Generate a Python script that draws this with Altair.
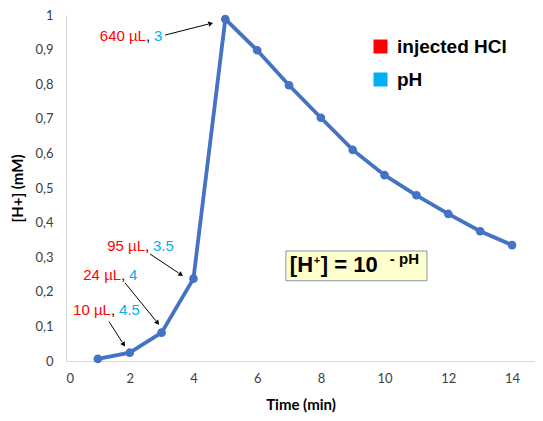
import math
import altair as alt
import pandas as pd

# ---- data ----
time_min = [1, 2, 3, 4, 5, 6, 7, 8, 9, 10, 11, 12, 13, 14]
h_plus = [0.006, 0.024, 0.082, 0.238, 0.988, 0.898, 0.797, 0.703, 0.610,
          0.537, 0.479, 0.425, 0.375, 0.335]

ann_volume = ["640 µL", "95 µL", "24 µL", "10 µL"]
ann_ph = ["3", "3.5", "4", "4.5"]
ann_x = [2.51, 2.48, 1.73, 1.41]
ann_y = [0.940, 0.332, 0.249, 0.148]
arrow_x0 = [3.11, 2.64, 1.85, 1.35]
arrow_y0 = [0.942, 0.309, 0.226, 0.114]
arrow_x1 = [4.61, 3.67, 2.92, 1.85]
arrow_y1 = [0.977, 0.246, 0.105, 0.042]

legend_labels = ["injected HCl", "pH"]
legend_colors = ["#FF0000", "#00B0F0"]

box_x = [6.9, 11.33]
box_y = [0.232, 0.318]
formula_base_y = 0.257
formula_sup_y = 0.280

x_ticks = [0, 2, 4, 6, 8, 10, 12, 14]
y_ticks = [0, 0.1, 0.2, 0.3, 0.4, 0.5, 0.6, 0.7, 0.8, 0.9, 1]

W, H = 469, 346
X_MAX = 14.72
px_x = W / X_MAX
px_y = H / 1.0

df = pd.DataFrame({"t": time_min, "h": h_plus})

ann = pd.DataFrame({
    "x": ann_x, "y": ann_y, "vol": ann_volume, "ph": ann_ph,
    "s_vol": [legend_labels[0]] * 4, "s_ph": [legend_labels[1]] * 4,
})

# arrow heads
heads = []
for x0, y0, x1, y1 in zip(arrow_x0, arrow_y0, arrow_x1, arrow_y1):
    dxp = (x1 - x0) * px_x
    dyp = -(y1 - y0) * px_y
    L = math.hypot(dxp, dyp)
    ux, uy = dxp / L, dyp / L
    ang = math.degrees(math.atan2(ux, -uy)) % 360
    back = 3.0
    hx = x1 - ux * back / px_x
    hy = y1 + uy * back / px_y
    ex = x1 - ux * 5 / px_x
    ey = y1 + uy * 5 / px_y
    heads.append({"x0": x0, "y0": y0, "x1": ex, "y1": ey, "hx": hx, "hy": hy, "ang": ang})
arrows = pd.DataFrame(heads)

xs = alt.Scale(domain=[0, X_MAX], nice=False, zero=True)
ys = alt.Scale(domain=[0, 1], nice=False)

x_axis = alt.Axis(values=x_ticks, title="Time (min)", labelPadding=11, titlePadding=12,
                  labelOverlap=False)
y_axis = alt.Axis(values=y_ticks, title="[H+] (mM)", labelPadding=13,
                  titlePadding=9, labelOverlap=False,
                  labelExpr="replace(format(datum.value, '.1~f'), '.', ',')")


def X(f):
    return alt.X(f, scale=xs, axis=x_axis)


def Y(f):
    return alt.Y(f, scale=ys, axis=y_axis)


color_scale = alt.Scale(domain=legend_labels, range=legend_colors)
legend = alt.Legend(title=None, orient="none", legendX=305, legendY=22,
                    symbolType="square", symbolSize=196, symbolStrokeWidth=0,
                    symbolOpacity=1, labelFont="Liberation Sans",
                    labelFontSize=19, labelFontWeight="bold",
                    labelColor="#000000", rowPadding=13, labelOffset=7,
                    padding=0)

line = alt.Chart(df).mark_line(color="#4472C4", strokeWidth=3.8).encode(
    x=X("t:Q"), y=Y("h:Q"))
pts = alt.Chart(df).mark_circle(color="#4472C4", size=75, opacity=1).encode(
    x=X("t:Q"), y=Y("h:Q"))

afont = dict(font="Liberation Sans", fontSize=15, baseline="middle")
t_vol = alt.Chart(ann).mark_text(align="right", **afont).encode(
    x=X("x:Q"), y=Y("y:Q"), text="vol:N",
    color=alt.Color("s_vol:N", scale=color_scale, legend=legend))
t_comma = alt.Chart(ann).mark_text(align="left", color="#000000", text=",", **afont).encode(
    x=X("x:Q"), y=Y("y:Q"))
t_ph = alt.Chart(ann).mark_text(align="left", dx=8, **afont).encode(
    x=X("x:Q"), y=Y("y:Q"), text="ph:N",
    color=alt.Color("s_ph:N", scale=color_scale, legend=legend))

arr = alt.Chart(arrows).mark_rule(color="#000000", strokeWidth=1).encode(
    x=X("x0:Q"), y=Y("y0:Q"), x2="x1:Q", y2="y1:Q")
arr_head = alt.Chart(arrows).mark_point(shape="triangle", filled=True, color="#000000",
                                        size=28, opacity=1).encode(
    x=X("hx:Q"), y=Y("hy:Q"), angle=alt.Angle("ang:Q", scale=None))

box_df = pd.DataFrame({"x": [box_x[0]], "x2": [box_x[1]], "y": [box_y[0]], "y2": [box_y[1]],
                       "yb": [formula_base_y], "ys": [formula_sup_y]})
box = alt.Chart(box_df).mark_rect(fill="#FFFFCC", stroke="#8497B0", strokeWidth=1).encode(
    x=X("x:Q"), x2="x2:Q", y=Y("y:Q"), y2="y2:Q")

ffont = dict(font="Liberation Sans", fontWeight="bold", align="left",
             baseline="alphabetic", color="#000000")
f1 = alt.Chart(box_df).mark_text(text="[H", fontSize=22, dx=4, **ffont).encode(
    x=X("x:Q"), y=Y("yb:Q"))
f2 = alt.Chart(box_df).mark_text(text="+", fontSize=11, dx=28, dy=-8, **ffont).encode(
    x=X("x:Q"), y=Y("yb:Q"))
f3 = alt.Chart(box_df).mark_text(text="] = 10", fontSize=22, dx=35, **ffont).encode(
    x=X("x:Q"), y=Y("yb:Q"))
f4 = alt.Chart(box_df).mark_text(text="- pH", fontSize=15, dx=104, **ffont).encode(
    x=X("x:Q"), y=Y("ys:Q"))

chart = alt.layer(line, pts, arr, arr_head, t_vol, t_comma, t_ph, box, f1, f2, f3, f4).properties(
    width=W, height=H,
    autosize=alt.AutoSizeParams(type="none"),
    padding={"left": 58, "top": 7, "right": 0, "bottom": 55},
).configure_view(stroke=None).configure_axis(
    grid=False, tickSize=0, ticks=False, domainColor="#D9D9D9", labelOverlap=False,
    labelFont="Lato", labelFontSize=13, labelColor="#404040",
    titleFont="Lato", titleFontSize=15, titleFontWeight="bold", titleColor="#000000",
).resolve_scale(color="shared")

chart.save("out.html", embed_options={"renderer": "svg", "actions": False})
